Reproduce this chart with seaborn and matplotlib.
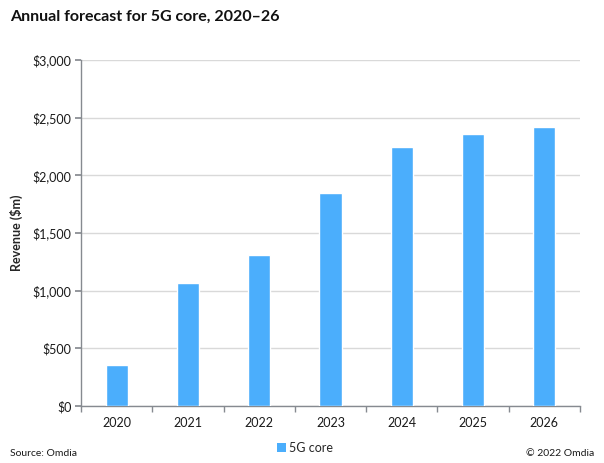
import matplotlib
matplotlib.use("Agg")
import matplotlib.pyplot as plt
import seaborn as sns
import pandas as pd
from matplotlib.ticker import FuncFormatter, MultipleLocator, FixedLocator
from matplotlib.patches import Patch

years = ["2020", "2021", "2022", "2023", "2024", "2025", "2026"]
revenue = [355, 1065, 1310, 1845, 2245, 2355, 2415]
series_name = "5G core"

sns.set_theme(style="white")
plt.rcParams['font.family'] = ['Lato', 'DejaVu Sans']

df = pd.DataFrame({"Year": years, "Revenue": revenue})

fig = plt.figure(figsize=(6.04, 4.63), dpi=100)
ax = fig.add_axes([81/604, 57/463, 499/604, 346/463])

color = "#4BAEFC"
sns.barplot(data=df, x="Year", y="Revenue", color=color, width=0.31,
            saturation=1, ax=ax, zorder=3)

ax.set_ylim(0, 3000)
ax.set_xlim(-0.5, 6.5)
ax.yaxis.set_major_locator(MultipleLocator(500))
ax.yaxis.set_major_formatter(FuncFormatter(lambda v, p: f"${int(v):,}"))
ax.grid(axis="y", color="#D9D9D9", linewidth=1, zorder=0)
ax.set_axisbelow(True)

for s in ["top", "right"]:
    ax.spines[s].set_visible(False)
for s in ["left", "bottom"]:
    ax.spines[s].set_color("#868A90")
    ax.spines[s].set_linewidth(1)

ax.tick_params(axis="y", which="major", direction="out", length=4, color="#868A90",
               labelsize=9, labelcolor="#1a1a1a", left=True, pad=3)
ax.tick_params(axis="x", which="major", length=0, labelsize=9, labelcolor="#1a1a1a", pad=8)
ax.xaxis.set_minor_locator(FixedLocator([i + 0.5 for i in range(-1, 7)]))
ax.tick_params(axis="x", which="minor", direction="out", length=4, color="#868A90", bottom=True)

ax.set_xlabel("")
ax.set_ylabel("Revenue ($m)", fontsize=9, fontweight="bold", labelpad=7)

fig.text(10/604, 1 - 17/463, "Annual forecast for 5G core, 2020\u201326", fontsize=11.5,
         fontweight="bold", va="center", ha="left", color="#111111")

fig.legend(handles=[Patch(facecolor=color, edgecolor="none", label=series_name)],
           loc="center", bbox_to_anchor=(305/604, 1 - 448/463), frameon=False,
           fontsize=9, handlelength=0.7, handleheight=0.7, handletextpad=0.3)

fig.text(10/604, 1 - 454/463, "Source: Omdia", fontsize=7.5, va="center", ha="left", color="#1a1a1a")
fig.text(594/604, 1 - 454/463, "\u00a9 2022 Omdia", fontsize=7.5, va="center", ha="right", color="#1a1a1a")

fig.savefig("out.png", dpi=100)
